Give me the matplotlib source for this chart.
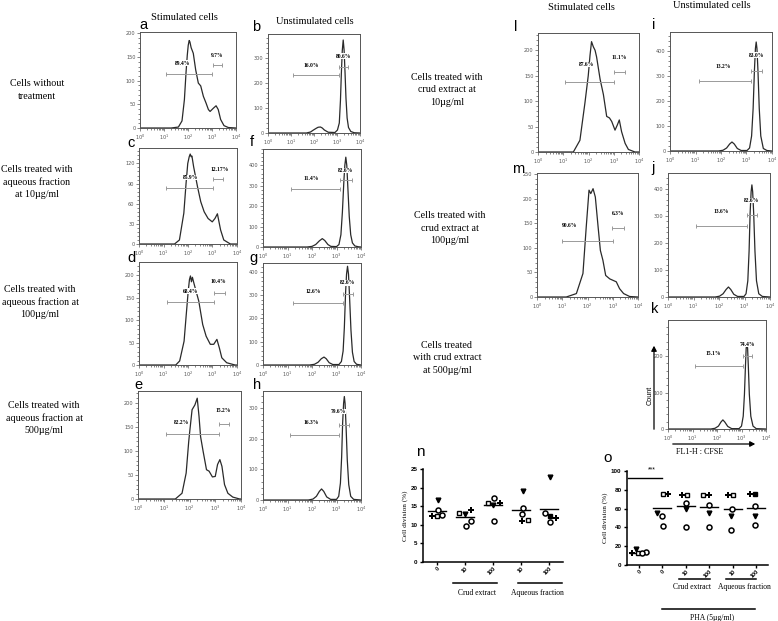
import matplotlib
matplotlib.use("Agg")
import matplotlib.pyplot as plt
import matplotlib.transforms as mtransforms
from matplotlib.ticker import AutoMinorLocator, FixedLocator, LogLocator, NullFormatter
from matplotlib.patches import FancyArrowPatch

W, H = 778, 621
SERIF = "Liberation Serif"
SANS = "Liberation Sans"

# ---- CFSE histograms: (log10 FL1-H, count) ----
A_LOG = [0.0, 1.3, 1.6, 1.75, 1.85, 1.92, 1.97, 2.01, 2.05, 2.08, 2.13, 2.22, 2.32, 2.43, 2.53,
         2.64, 2.75, 2.85, 2.92, 3.06, 3.17, 3.26, 3.36, 3.5, 3.68, 4.0]
A_CNT = [0, 0, 2, 15, 60, 119, 154, 175, 185, 182, 170, 158, 123, 95, 89, 67, 53, 39, 35, 42,
         47, 39, 18, 5, 1, 0]
C_LOG = [0.0, 1.45, 1.65, 1.83, 1.92, 1.99, 2.05, 2.09, 2.13, 2.16, 2.23, 2.39, 2.52, 2.66,
         2.82, 2.99, 3.1, 3.2, 3.33, 3.46, 3.73, 4.0]
C_CNT = [0, 0, 6, 46, 90, 120, 130, 134, 130, 131, 115, 85, 63, 48, 38, 33, 38, 45, 21, 6, 0, 0]
D_LOG = [0.0, 1.5, 1.66, 1.84, 1.93, 2.01, 2.06, 2.1, 2.14, 2.18, 2.25, 2.35, 2.44, 2.6, 2.74,
         2.91, 3.05, 3.18, 3.28, 3.38, 3.58, 3.92, 4.0]
D_CNT = [0, 0, 9, 53, 113, 165, 190, 198, 185, 195, 180, 160, 142, 90, 64, 46, 46, 57, 38, 16,
         5, 0, 0]
E_LOG = [0.0, 1.45, 1.71, 1.87, 1.97, 2.01, 2.1, 2.21, 2.3, 2.37, 2.43, 2.53, 2.66, 2.76, 2.89,
         3.0, 3.09, 3.18, 3.26, 3.36, 3.49, 3.68, 3.95, 4.0]
E_CNT = [0, 0, 12, 54, 120, 141, 186, 196, 210, 172, 130, 99, 61, 58, 46, 47, 72, 82, 68, 30,
         12, 4, 0, 0]
L_LOG = [0.0, 1.4, 1.66, 1.86, 1.99, 2.06, 2.12, 2.19, 2.26, 2.32, 2.46, 2.59, 2.72, 2.83, 2.92,
         3.05, 3.14, 3.22, 3.31, 3.45, 3.58, 3.84, 4.0]
L_CNT = [0, 0, 23, 97, 150, 190, 217, 207, 200, 187, 143, 113, 70, 67, 60, 43, 53, 63, 40, 17,
         5, 0, 0]
M_LOG = [0.0, 1.16, 1.56, 1.82, 1.95, 2.06, 2.13, 2.22, 2.31, 2.42, 2.51, 2.61, 2.72, 2.88,
         3.01, 3.14, 3.27, 3.43, 3.67, 4.0]
M_CNT = [0, 0, 7, 48, 143, 218, 211, 221, 204, 143, 95, 75, 44, 37, 34, 31, 17, 7, 1, 0]

B_LOG = [0.0, 1.67, 1.85, 1.96, 2.1, 2.18, 2.28, 2.36, 2.45, 2.62, 2.91, 3.02, 3.1, 3.15, 3.19,
         3.23, 3.27, 3.31, 3.35, 3.39, 3.44, 3.5, 3.6, 3.75, 4.0]
B_CNT = [0, 0, 4, 11, 19, 23, 24, 20, 12, 3, 2, 12, 40, 130, 240, 330, 372, 330, 240, 140, 60,
         22, 6, 1, 0]
F_LOG = [0.0, 1.8, 2.0, 2.15, 2.3, 2.42, 2.52, 2.65, 2.77, 3.0, 3.1, 3.18, 3.24, 3.3, 3.34,
         3.38, 3.42, 3.46, 3.52, 3.58, 3.65, 3.75, 3.9, 4.0]
F_CNT = [0, 0, 3, 12, 30, 41, 32, 12, 3, 2, 12, 60, 170, 320, 400, 440, 400, 300, 150, 60, 20,
         5, 1, 0]
G_LOG = [0.0, 1.9, 2.1, 2.25, 2.38, 2.49, 2.58, 2.7, 2.85, 3.1, 3.2, 3.27, 3.32, 3.37, 3.41,
         3.45, 3.49, 3.53, 3.59, 3.65, 3.72, 3.82, 4.0]
G_CNT = [0, 0, 3, 12, 27, 34, 27, 10, 2, 2, 15, 60, 160, 310, 390, 424, 390, 300, 150, 55, 15,
         3, 0]
H_LOG = [0.0, 1.85, 2.04, 2.18, 2.3, 2.39, 2.48, 2.6, 2.76, 3.0, 3.09, 3.16, 3.21, 3.25, 3.29,
         3.32, 3.35, 3.39, 3.44, 3.5, 3.58, 3.7, 4.0]
H_CNT = [0, 0, 3, 12, 28, 36, 28, 10, 2, 2, 12, 55, 140, 250, 315, 337, 315, 240, 130, 50, 12,
         2, 0]
I_LOG = [0.0, 1.9, 2.08, 2.22, 2.34, 2.43, 2.52, 2.64, 2.79, 3.02, 3.12, 3.2, 3.26, 3.31, 3.35,
         3.38, 3.41, 3.45, 3.5, 3.56, 3.66, 3.8, 4.0]
I_CNT = [0, 0, 3, 12, 28, 36, 28, 10, 2, 2, 12, 60, 170, 320, 410, 436, 410, 320, 170, 60, 10,
         2, 0]
J_LOG = [0.0, 1.85, 2.02, 2.16, 2.28, 2.37, 2.46, 2.58, 2.73, 2.98, 3.06, 3.13, 3.18, 3.22,
         3.26, 3.29, 3.32, 3.36, 3.41, 3.47, 3.56, 3.7, 4.0]
J_CNT = [0, 0, 3, 12, 28, 37, 28, 10, 2, 2, 12, 60, 170, 310, 390, 415, 390, 310, 170, 60, 12,
         2, 0]
K_LOG = [0.0, 1.75, 1.92, 2.06, 2.16, 2.24, 2.32, 2.44, 2.6, 2.9, 3.0, 3.07, 3.12, 3.16, 3.19,
         3.22, 3.25, 3.28, 3.32, 3.38, 3.47, 3.6, 4.0]
K_CNT = [0, 0, 2, 8, 19, 25, 19, 7, 1, 1, 8, 35, 95, 170, 220, 240, 220, 170, 95, 35, 8, 1, 0]

# gates: (low decade, high decade, height, label, label decade, label height)
A_GATES = [(1.08, 3.00, 115, "89.4%", 1.79, 137), (3.04, 3.42, 133, "9.7%", 3.2, 154)]
B_GATES = [(1.09, 3.10, 231, "16.0%", 1.89, 271), (3.10, 3.49, 264, "80.6%", 3.27, 307)]
C_GATES = [(1.09, 3.02, 84, "85.9%", 2.12, 99), (3.02, 3.44, 97, "12.17%", 3.29, 111)]
F_GATES = [(1.15, 3.15, 282, "11.4%", 1.95, 336), (3.15, 3.62, 328, "82.6%", 3.38, 374)]
D_GATES = [(1.13, 3.05, 140, "68.4%", 2.1, 164), (3.05, 3.49, 159, "10.4%", 3.25, 185)]
G_GATES = [(1.22, 3.27, 267, "12.6%", 2.05, 317), (3.27, 3.66, 307, "82.6%", 3.45, 353)]
E_GATES = [(1.09, 3.13, 135, "82.2%", 1.67, 160), (3.13, 3.53, 156, "15.2%", 3.29, 185)]
H_GATES = [(1.12, 3.12, 212, "16.3%", 1.95, 253), (3.12, 3.51, 245, "79.6%", 3.07, 288)]
L_GATES = [(1.07, 3.02, 137, "87.6%", 1.93, 172), (3.02, 3.45, 158, "11.1%", 3.22, 185)]
I_GATES = [(1.14, 3.18, 280, "13.2%", 2.08, 336), (3.18, 3.60, 320, "83.0%", 3.38, 383)]
M_GATES = [(0.99, 3.01, 114, "90.6%", 1.27, 145), (2.98, 3.43, 141, "6.3%", 3.21, 171)]
J_GATES = [(1.09, 3.08, 262, "13.6%", 2.09, 315), (3.08, 3.50, 305, "82.6%", 3.27, 357)]
K_GATES = [(1.10, 3.06, 173, "15.1%", 1.84, 208), (3.06, 3.43, 200, "74.4%", 3.24, 233)]

# ---- cell division scatter (one list per donor marker) ----
N_CATS = ["0", "10", "100", "10", "100"]
N_MEANS = [13.8, 12.1, 15.2, 14.0, 14.2]
N_TRI = [16.8, 13.0, 15.3, 19.0, 22.8]
N_CIRC1 = [14.1, 9.8, 17.2, 14.5, 13.3]
N_PLUS = [12.5, 14.1, 15.9, 11.1, 11.8]
N_SQUARE = [12.5, 13.3, 15.9, 11.4, 12.5]
N_CIRC2 = [12.7, 10.9, 11.1, 12.9, 10.8]
N_SQ_FILLED = [False, False, False, False, True]
N_JIT = {"tri": [0.04, 0.0, 0.0, 0.06, 0.05], "circ1": [0.04, 0.02, 0.04, 0.06, -0.15],
         "plus": [-0.18, 0.21, 0.24, 0.02, 0.26], "square": [0.0, -0.2, -0.19, 0.24, 0.05],
         "circ2": [0.19, 0.21, 0.02, 0.02, 0.05]}

O_CATS = ["0", "0", "10", "100", "10", "100"]
O_MEANS = [13.0, 60.9, 63.0, 61.5, 59.8, 61.0]
O_TRI = [16.6, 55, 59.6, 55, 52, 52]
O_CIRC1 = [13.5, 52, 66, 64, 60, 63]
O_PLUS = [12.5, 76, 74.5, 74, 74.5, 76]
O_SQUARE = [12.3, 76, 74.5, 74.5, 74.5, 76]
O_CIRC2 = [12.8, 42, 40, 40, 37, 42.7]
O_SQ_FILLED = [False, False, False, False, False, True]
O_JIT = {"tri": [-0.1, -0.21, 0.03, 0.0, -0.07, -0.04], "circ1": [0.3, 0.0, 0.03, 0.0, -0.03, -0.04],
         "plus": [-0.3, 0.26, -0.18, -0.03, -0.21, -0.28], "square": [-0.05, 0.03, 0.06, -0.26, 0.0, -0.04],
         "circ2": [0.12, 0.03, 0.0, 0.0, -0.07, -0.04]}

fig = plt.figure(figsize=(W / 100, H / 100), dpi=100)


def px_axes(x0, y0, x1, y1):
    return fig.add_axes([x0 / W, 1 - y1 / H, (x1 - x0) / W, (y1 - y0) / H])


def ftext(x, y, s, **kw):
    fig.text(x / W, 1 - y / H, s, **kw)


def hist_panel(box, logs, counts, ymax, yticks, gates, letter, letter_xy):
    ax = px_axes(*box)
    ax.plot([10 ** v for v in logs], counts, color="#2a2a2a", lw=0.9, zorder=2)
    ax.set_xscale("log")
    ax.set_xlim(1, 1e4)
    ax.set_ylim(0, ymax)
    ax.xaxis.set_major_locator(LogLocator(base=10, numticks=10))
    ax.xaxis.set_minor_locator(LogLocator(base=10, subs=range(2, 10), numticks=10))
    ax.xaxis.set_minor_formatter(NullFormatter())
    ax.yaxis.set_major_locator(FixedLocator(yticks))
    ax.yaxis.set_minor_locator(AutoMinorLocator(5))
    ax.tick_params(which="both", direction="out", width=0.5, colors="#555555",
                   labelsize=3.6, pad=1, top=False, right=False)
    ax.tick_params(which="major", length=2.2)
    ax.tick_params(which="minor", length=1.2)
    for sp in ax.spines.values():
        sp.set_color("#555555")
        sp.set_linewidth(0.7)
    for lo, hi, gy, label, lx, ly in gates:
        ax.plot([10 ** lo, 10 ** hi], [gy, gy], color="#9a9a9a", lw=0.7,
                marker="|", ms=3.2, mew=0.7, zorder=3)
        ax.text(10 ** lx, ly, label, fontsize=4.0, family=SERIF, weight="bold",
                ha="center", va="center", zorder=4,
                bbox=dict(facecolor="white", edgecolor="none", pad=0.2))
    ftext(letter_xy[0], letter_xy[1], letter, family=SANS, fontsize=10.5, ha="center", va="center")
    return ax


# stimulated / unstimulated columns, left block
hist_panel((140, 32, 236, 128), A_LOG, A_CNT, 203, [0, 50, 100, 150, 200], A_GATES, "a", (143, 25))
hist_panel((268, 34, 360, 133), B_LOG, B_CNT, 396, [0, 100, 200, 300], B_GATES, "b", (256, 27))
hist_panel((139, 148, 237, 244), C_LOG, C_CNT, 143, [0, 30, 60, 90, 120], C_GATES, "c", (131, 143))
hist_panel((263, 149, 361, 247), F_LOG, F_CNT, 480, [0, 100, 200, 300, 400], F_GATES, "f", (252, 142))
hist_panel((139, 262, 237, 365), D_LOG, D_CNT, 229, [0, 50, 100, 150, 200], D_GATES, "d", (131, 258))
hist_panel((263, 263, 361, 365), G_LOG, G_CNT, 438, [0, 100, 200, 300, 400], G_GATES, "g", (253, 258))
hist_panel((138, 391, 241, 499), E_LOG, E_CNT, 225, [0, 50, 100, 150, 200], E_GATES, "e", (138, 385))
hist_panel((263, 391, 361, 500), H_LOG, H_CNT, 355, [0, 100, 200, 300], H_GATES, "h", (257, 385))

# right block
hist_panel((538, 33, 639, 152), L_LOG, L_CNT, 234, [0, 50, 100, 150, 200], L_GATES, "l", (516, 27))
hist_panel((670, 32, 772, 151), I_LOG, I_CNT, 476, [0, 100, 200, 300, 400], I_GATES, "i", (654, 25))
hist_panel((537, 173, 638, 297), M_LOG, M_CNT, 253, [0, 50, 100, 150, 200, 250], M_GATES, "m", (518, 169))
hist_panel((668, 173, 770, 297), J_LOG, J_CNT, 459, [0, 100, 200, 300, 400], J_GATES, "j", (653, 168))
hist_panel((668, 320, 766, 429), K_LOG, K_CNT, 299, [0, 100, 200, 300], K_GATES, "k", (655, 309))

# axis captions of panel k
ftext(650, 395, "Count", family=SANS, fontsize=5.2, rotation=90, ha="center", va="center")
fig.add_artist(FancyArrowPatch((654 / W, 1 - 432 / H), (654 / W, 1 - 343 / H),
                               transform=fig.transFigure, arrowstyle="-|>,head_length=3,head_width=1.6",
                               color="black", lw=0.9))
fig.add_artist(FancyArrowPatch((670 / W, 1 - 444 / H), (758 / W, 1 - 444 / H),
                               transform=fig.transFigure, arrowstyle="-|>,head_length=3,head_width=1.6",
                               color="black", lw=0.9))
ftext(700, 452, "FL1-H : CFSE", family=SERIF, fontsize=5.8, ha="center", va="center")

# column and row captions
cap = dict(family=SERIF, fontsize=7.5, ha="center", va="center")
ftext(184, 18, "Stimulated cells", **cap)
ftext(315, 21, "Unstimulated cells", **cap)
ftext(581, 7, "Stimulated cells", **cap)
ftext(712, 5, "Unstimulated cells", **cap)
row = dict(family=SERIF, fontsize=7.2, ha="center", va="center", linespacing=1.45)
ftext(37, 90, "Cells without\ntreatment", **row)
ftext(37, 182, "Cells treated with\naqueous fraction\nat 10\u00b5g/ml", **row)
ftext(40, 302, "Cells treated with\naqueous fraction at\n100\u00b5g/ml", **row)
ftext(44, 418, "Cells treated with\naqueous fraction at\n500\u00b5g/ml", **row)
ftext(447, 90, "Cells treated with\ncrud extract at\n10\u00b5g/ml", **row)
ftext(450, 228, "Cells treated with\ncrud extract at\n100\u00b5g/ml", **row)
ftext(447, 358, "Cells treated\nwith crud extract\nat 500\u00b5g/ml", **row)


def scatter_panel(box, cats, means, donors, sq_filled, jit, ymax, ystep, half):
    ax = px_axes(*box)
    ax.set_xlim(-0.5, len(cats) - 0.5)
    ax.set_ylim(0, ymax)
    for i, m in enumerate(means):
        ax.plot([i - half, i + half], [m, m], color="black", lw=1.0, zorder=2)
    for key, vals in donors.items():
        for i, v in enumerate(vals):
            x = i + jit[key][i]
            if key == "tri":
                ax.plot(x, v, "v", ms=3.4, color="black", clip_on=False, zorder=3)
            elif key == "plus":
                ax.plot(x, v, "P", ms=3.8, color="black", mew=0, clip_on=False, zorder=3)
            elif key == "square":
                face = "black" if sq_filled[i] else "white"
                ax.plot(x, v, "s", ms=3.3, mfc=face, mec="black", mew=1.0, clip_on=False, zorder=3)
            else:
                ax.plot(x, v, "o", ms=3.6, mfc="white", mec="black", mew=1.1, clip_on=False, zorder=3)
    ax.spines["top"].set_visible(False)
    ax.spines["right"].set_visible(False)
    for sp in ("left", "bottom"):
        ax.spines[sp].set_linewidth(1.1)
    ax.set_yticks(range(0, ymax + 1, ystep))
    ax.set_xticks(range(len(cats)))
    ax.set_xticklabels(cats, rotation=45, ha="right", rotation_mode="anchor")
    ax.tick_params(axis="y", labelsize=4.5, width=1.0, length=2.5, pad=1.5)
    ax.tick_params(axis="x", labelsize=4.0, width=1.0, length=2.2, pad=0.6)
    for t in ax.get_xticklabels() + ax.get_yticklabels():
        t.set_fontweight("bold")
        t.set_family(SANS)
    ax.set_ylabel("Cell division (%)", family=SERIF, fontsize=5.2, labelpad=2)
    return ax


axn = scatter_panel((423, 469, 563, 562), N_CATS, N_MEANS,
                    {"tri": N_TRI, "circ1": N_CIRC1, "plus": N_PLUS, "square": N_SQUARE, "circ2": N_CIRC2},
                    N_SQ_FILLED, N_JIT, 25, 5, 0.31)
trn = mtransforms.blended_transform_factory(axn.transData, axn.transAxes)
axn.plot([0.57, 2.14], [-0.226, -0.226], color="black", lw=1.1, transform=trn, clip_on=False)
axn.plot([2.89, 4.46], [-0.226, -0.226], color="black", lw=1.1, transform=trn, clip_on=False)
axn.text(1.43, -0.335, "Crud extract", transform=trn, family=SERIF, fontsize=5.5, ha="center", va="center")
axn.text(3.6, -0.335, "Aqueous fraction", transform=trn, family=SERIF, fontsize=5.5, ha="center", va="center")
ftext(420, 452, "n", family=SANS, fontsize=11, ha="center", va="center")

axo = scatter_panel((627, 471, 768, 565), O_CATS, O_MEANS,
                    {"tri": O_TRI, "circ1": O_CIRC1, "plus": O_PLUS, "square": O_SQUARE, "circ2": O_CIRC2},
                    O_SQ_FILLED, O_JIT, 100, 20, 0.39)
tro = mtransforms.blended_transform_factory(axo.transData, axo.transAxes)
axo.plot([-0.47, 1.0], [92.5, 92.5], color="black", lw=1.0, clip_on=False)
axo.text(0.55, 101, "***", family=SANS, fontsize=5, ha="center", va="center")
axo.plot([1.7, 3.05], [-0.15, -0.15], color="black", lw=1.1, transform=tro, clip_on=False)
axo.plot([3.7, 5.0], [-0.15, -0.15], color="black", lw=1.1, transform=tro, clip_on=False)
axo.text(2.25, -0.235, "Crud extract", transform=tro, family=SERIF, fontsize=5.5, ha="center", va="center")
axo.text(4.5, -0.235, "Aqueous fraction", transform=tro, family=SERIF, fontsize=5.5, ha="center", va="center")
axo.plot([0.97, 4.96], [-0.468, -0.468], color="black", lw=1.1, transform=tro, clip_on=False)
axo.text(3.1, -0.564, "PHA (5\u00b5g/ml)", transform=tro, family=SERIF, fontsize=5.5, ha="center", va="center")
ftext(608, 458, "o", family=SANS, fontsize=11, ha="center", va="center")

fig.savefig("out.png", dpi=100)
